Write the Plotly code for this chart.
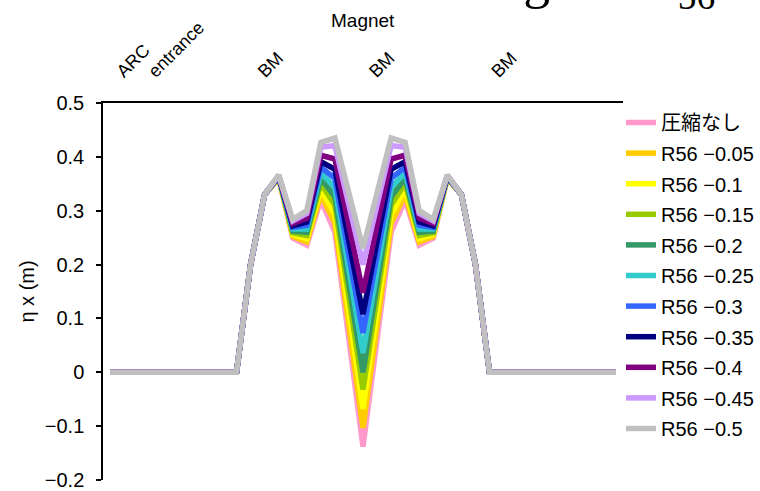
import plotly.graph_objects as go

# Lattice element index along the arc (37 sampling points)
element_index = list(range(37))

# Axis labels on the top (magnet) axis
magnet_tick_pos = [0.55, 2.8, 10.6, 18.5, 27.2]
magnet_tick_text = ["ARC", "entrance", "BM", "BM", "BM"]

# Horizontal dispersion eta_x (m) for each compression setting
eta_none = [0, 0, 0, 0, 0, 0, 0, 0, 0, 0, 0.200, 0.330, 0.360, 0.249, 0.236, 0.320, 0.260, 0.061,
            -0.138, 0.061, 0.260, 0.320, 0.236, 0.249, 0.360, 0.330, 0.200, 0, 0, 0, 0, 0, 0, 0, 0, 0, 0]
eta_r005 = [0, 0, 0, 0, 0, 0, 0, 0, 0, 0, 0.200, 0.330, 0.361, 0.252, 0.242, 0.330, 0.277, 0.087,
            -0.103, 0.087, 0.277, 0.330, 0.242, 0.252, 0.361, 0.330, 0.200, 0, 0, 0, 0, 0, 0, 0, 0, 0, 0]
eta_r010 = [0, 0, 0, 0, 0, 0, 0, 0, 0, 0, 0.200, 0.330, 0.361, 0.256, 0.248, 0.340, 0.293, 0.113,
            -0.068, 0.113, 0.293, 0.340, 0.248, 0.256, 0.361, 0.330, 0.200, 0, 0, 0, 0, 0, 0, 0, 0, 0, 0]
eta_r015 = [0, 0, 0, 0, 0, 0, 0, 0, 0, 0, 0.200, 0.330, 0.362, 0.259, 0.254, 0.351, 0.310, 0.139,
            -0.032, 0.139, 0.310, 0.351, 0.254, 0.259, 0.362, 0.330, 0.200, 0, 0, 0, 0, 0, 0, 0, 0, 0, 0]
eta_r020 = [0, 0, 0, 0, 0, 0, 0, 0, 0, 0, 0.200, 0.330, 0.362, 0.262, 0.260, 0.360, 0.326, 0.163,
            0.000, 0.163, 0.326, 0.360, 0.260, 0.262, 0.362, 0.330, 0.200, 0, 0, 0, 0, 0, 0, 0, 0, 0, 0]
eta_r025 = [0, 0, 0, 0, 0, 0, 0, 0, 0, 0, 0.200, 0.330, 0.363, 0.266, 0.266, 0.371, 0.343, 0.190,
            0.036, 0.190, 0.343, 0.371, 0.266, 0.266, 0.363, 0.330, 0.200, 0, 0, 0, 0, 0, 0, 0, 0, 0, 0]
eta_r030 = [0, 0, 0, 0, 0, 0, 0, 0, 0, 0, 0.200, 0.330, 0.364, 0.269, 0.273, 0.381, 0.360, 0.217,
            0.073, 0.217, 0.360, 0.381, 0.273, 0.269, 0.364, 0.330, 0.200, 0, 0, 0, 0, 0, 0, 0, 0, 0, 0]
eta_r035 = [0, 0, 0, 0, 0, 0, 0, 0, 0, 0, 0.200, 0.330, 0.364, 0.272, 0.279, 0.391, 0.377, 0.243,
            0.108, 0.243, 0.377, 0.391, 0.279, 0.272, 0.364, 0.330, 0.200, 0, 0, 0, 0, 0, 0, 0, 0, 0, 0]
eta_r040 = [0, 0, 0, 0, 0, 0, 0, 0, 0, 0, 0.200, 0.330, 0.365, 0.276, 0.286, 0.403, 0.396, 0.272,
            0.148, 0.272, 0.396, 0.403, 0.286, 0.276, 0.365, 0.330, 0.200, 0, 0, 0, 0, 0, 0, 0, 0, 0, 0]
eta_r045 = [0, 0, 0, 0, 0, 0, 0, 0, 0, 0, 0.200, 0.330, 0.366, 0.281, 0.295, 0.418, 0.421, 0.311,
            0.200, 0.311, 0.421, 0.418, 0.295, 0.281, 0.366, 0.330, 0.200, 0, 0, 0, 0, 0, 0, 0, 0, 0, 0]
eta_r050 = [0, 0, 0, 0, 0, 0, 0, 0, 0, 0, 0.200, 0.330, 0.366, 0.284, 0.300, 0.427, 0.435, 0.333,
            0.230, 0.333, 0.435, 0.427, 0.300, 0.284, 0.366, 0.330, 0.200, 0, 0, 0, 0, 0, 0, 0, 0, 0, 0]

series_names = ["圧縮なし", "R56 −0.05", "R56 −0.1", "R56 −0.15", "R56 −0.2", "R56 −0.25",
                "R56 −0.3", "R56 −0.35", "R56 −0.4", "R56 −0.45", "R56 −0.5"]
series_values = [eta_none, eta_r005, eta_r010, eta_r015, eta_r020, eta_r025,
                 eta_r030, eta_r035, eta_r040, eta_r045, eta_r050]
series_colors = ["#FF99CC", "#FFCC00", "#FFFF00", "#99CC00", "#339966", "#33CCCC",
                 "#3366FF", "#000080", "#800080", "#CC99FF", "#C0C0C0"]

fig = go.Figure()
for name, vals, color in zip(series_names, series_values, series_colors):
    fig.add_trace(go.Scatter(
        x=element_index, y=vals, mode="lines", name=name, legendgroup=name,
        line=dict(color=color, width=5.5),
    ))

W, H = 760, 491
ML, MR, MT, MB = 103, 137, 103, 11
PW, PH = W - ML - MR, H - MT - MB


def paper_y(px):
    """Convert a pixel row (from the top of the page) into paper y."""
    return 1 + (MT - px) / PH


fig.update_layout(
    width=W, height=H,
    margin=dict(l=ML, r=MR, t=MT, b=MB, autoexpand=False),
    paper_bgcolor="white", plot_bgcolor="white",
    font=dict(family="Liberation Sans, Noto Sans CJK JP, sans-serif", color="black"),
    showlegend=True,
    legend=dict(
        x=1.0 - 2 / PW, xanchor="left", y=1.0, yanchor="top",
        font=dict(size=20, family="Liberation Sans, Noto Sans CJK JP, sans-serif"),
        tracegroupgap=1.6, bgcolor="rgba(0,0,0,0)", itemwidth=30,
    ),
    xaxis=dict(
        side="top", range=[-0.5, 36.5], showgrid=False, zeroline=False,
        showline=True, linecolor="black", linewidth=1.5, ticks="",
        tickmode="array", tickvals=magnet_tick_pos, ticktext=magnet_tick_text,
        tickangle=-45, tickfont=dict(size=18), ticklabelstandoff=13,
    ),
    yaxis=dict(
        range=[-0.2, 0.5], dtick=0.1, tick0=0, showgrid=False, zeroline=False,
        showline=True, linecolor="black", linewidth=1.5,
        ticks="outside", ticklen=5, tickwidth=1.5, tickcolor="black",
        tickfont=dict(size=20), ticklabelstandoff=8,
        title=dict(text="η x (m)", font=dict(size=20), standoff=5),
    ),
    annotations=[
        # Large heading above the chart; only its lower part falls inside the page
        dict(
            text="Controllable range in R<sub>56</sub> is",
            xref="paper", yref="paper", x=(172 - ML) / PW, y=paper_y(-52),
            xanchor="left", yanchor="top", showarrow=False,
            font=dict(family="Liberation Serif, serif", size=53.5, color="black"),
        ),
        dict(
            text="Magnet", xref="paper", yref="paper", x=0.5, y=paper_y(20),
            xanchor="center", yanchor="middle", showarrow=False,
            font=dict(size=19),
        ),
    ],
)

fig.write_html("out.html")
